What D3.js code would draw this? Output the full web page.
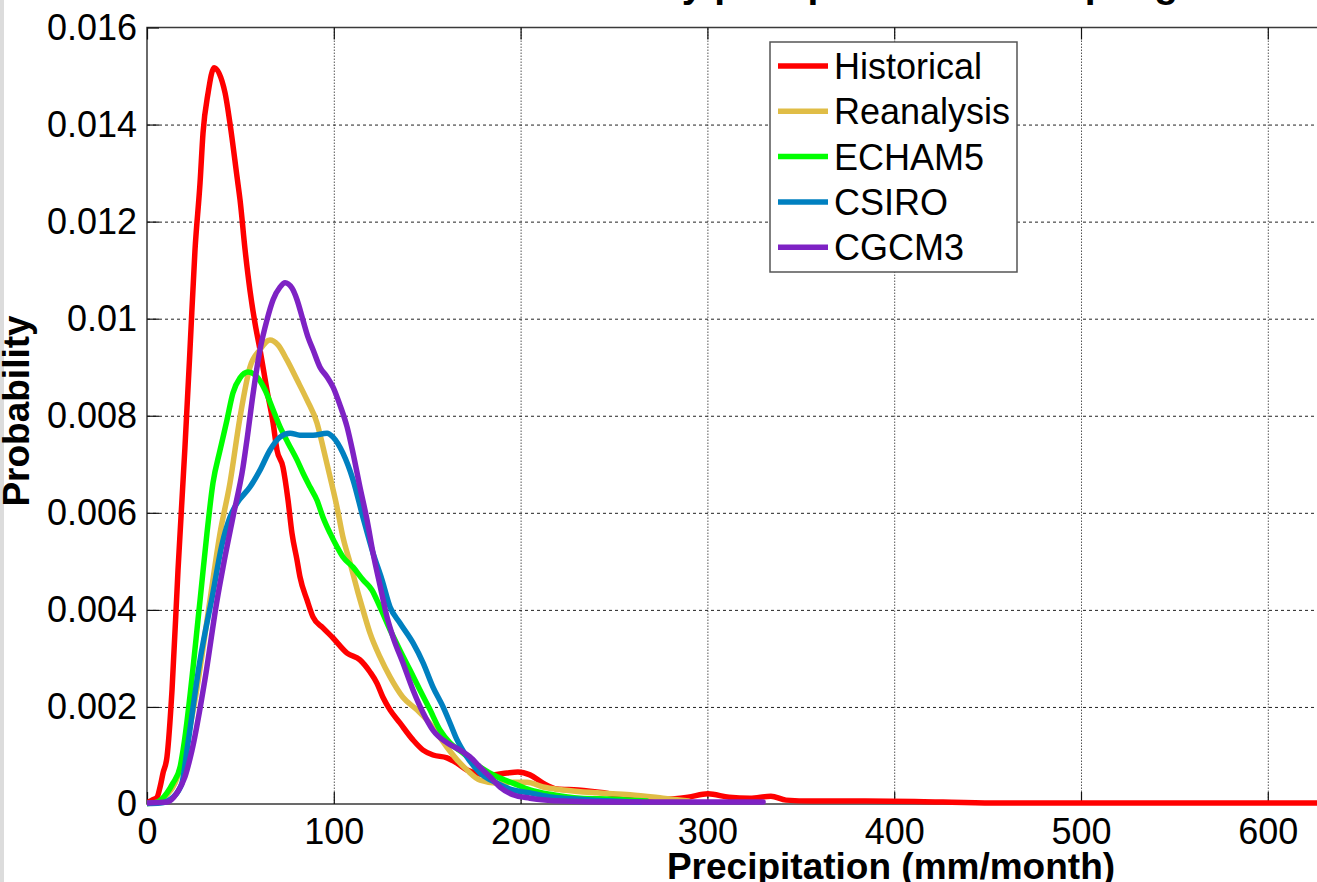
<!DOCTYPE html>
<html>
<head>
<meta charset="utf-8">
<script src="https://cdn.jsdelivr.net/npm/d3@7"></script>
<style>
  body { margin: 0; background: #fff; }
  svg { display: block; }
  text { font-family: "Liberation Sans", Arial, sans-serif; fill: #000; }
</style>
</head>
<body>
<svg id="chart" width="1317" height="882"></svg>
<script>
// ---- data -------------------------------------------------------------
const seriesNames  = ["Historical", "Reanalysis", "ECHAM5", "CSIRO", "CGCM3"];
const seriesColors = ["#ff0000", "#e0bd46", "#00ff00", "#0080c0", "#7e22c4"];

const xTicks = [0, 100, 200, 300, 400, 500, 600];
const xTickLabels = ["0", "100", "200", "300", "400", "500", "600"];
const yTicks = [0, 0.002, 0.004, 0.006, 0.008, 0.01, 0.012, 0.014, 0.016];
const yTickLabels = ["0", "0.002", "0.004", "0.006", "0.008", "0.01", "0.012", "0.014", "0.016"];

const historicalX = [0, 2.7, 5.4, 7.0, 8.6, 10.7, 13.4, 16.6, 20.3, 23.0, 25.7, 28.4, 30.0, 32.7, 35.9,
  41.8, 44.4, 48.2, 49.8, 52.5, 55.1, 57.8, 60.5, 64.2, 67.5, 69.6, 72.8, 75.5, 77.6, 80.3, 81.9, 85.7,
  88.9, 94.2, 99.6, 107.1, 114.0, 119.4, 123.1, 126.3, 130.1, 135.4, 142.4, 147.8, 153.1, 160.6, 166.0,
  171.3, 178.3, 185.2, 192.7, 198.6, 205.0, 212.0, 219.5, 230.7, 244.6, 261.2, 278.4, 289.6, 300.3,
  311.6, 322.8, 334.0, 342.1, 356.0, 384.4, 426.1, 456.6, 600, 800];
const historicalY = [0.00002, 0.00008, 0.00014, 0.00035, 0.00064, 0.00097, 0.00235, 0.00482, 0.00734,
  0.00935, 0.01142, 0.01280, 0.01383, 0.01465, 0.01517, 0.01465, 0.01403, 0.01292, 0.01245, 0.01142,
  0.01059, 0.00991, 0.00936, 0.00853, 0.00785, 0.00729, 0.00694, 0.00626, 0.00558, 0.00503, 0.00468,
  0.00420, 0.00385, 0.00363, 0.00342, 0.00311, 0.00297, 0.00272, 0.00249, 0.00220, 0.00194, 0.00167,
  0.00132, 0.00111, 0.00101, 0.00095, 0.00084, 0.00070, 0.00062, 0.00060, 0.00064, 0.00066, 0.00060,
  0.00043, 0.00031, 0.00029, 0.00023, 0.00012, 0.00010, 0.00014, 0.00021, 0.00014, 0.00012, 0.00016,
  0.00008, 0.00006, 0.00006, 0.00004, 0.00002, 0.00002, 0.00002];

const reanalysisX = [0, 5.4, 10.7, 15.0, 20.3, 25.7, 33.7, 39.1, 44.4, 49.8, 55.1, 60.5, 65.8, 70.1,
  74.9, 80.3, 85.7, 91.0, 94.2, 98.0, 101.7, 104.9, 108.7, 113.0, 115.6, 119.4, 124.7, 130.1, 137.0,
  144.5, 149.9, 155.2, 160.6, 166.0, 171.3, 178.3, 187.4, 195.9, 203.4, 212.0, 222.7, 240.9, 258.6,
  276.2, 290];
const reanalysisY = [0.00001, 0.00003, 0.00019, 0.00043, 0.00111, 0.00214, 0.00420, 0.00558, 0.00661,
  0.00797, 0.00900, 0.00936, 0.00956, 0.00946, 0.00915, 0.00874, 0.00832, 0.00785, 0.00736, 0.00674,
  0.00612, 0.00550, 0.00497, 0.00435, 0.00400, 0.00352, 0.00303, 0.00262, 0.00220, 0.00194, 0.00173,
  0.00146, 0.00117, 0.00091, 0.00070, 0.00049, 0.00043, 0.00045, 0.00045, 0.00035, 0.00029, 0.00023,
  0.00019, 0.00012, 0.00006];

const echamX = [0, 5.4, 10.7, 13.9, 17.7, 19.3, 28.4, 32.1, 35.3, 39.1, 42.8, 46.0, 49.8, 54.1, 58.9,
  63.2, 66.9, 71.2, 75.5, 80.3, 83.5, 87.3, 91.0, 94.2, 98.0, 101.7, 104.9, 110.3, 115.6, 120.4, 124.7,
  130.1, 135.4, 140.8, 146.1, 151.5, 156.9, 162.2, 169.2, 178.3, 187.4, 195.9, 205.0, 217.3, 231.8,
  249.5, 267.7];
const echamY = [0.00001, 0.00004, 0.00023, 0.00043, 0.00076, 0.00111, 0.00420, 0.00558, 0.00661,
  0.00729, 0.00791, 0.00847, 0.00878, 0.00890, 0.00880, 0.00853, 0.00818, 0.00777, 0.00744, 0.00709,
  0.00682, 0.00653, 0.00626, 0.00591, 0.00558, 0.00530, 0.00509, 0.00488, 0.00462, 0.00441, 0.00406,
  0.00359, 0.00317, 0.00276, 0.00235, 0.00194, 0.00152, 0.00126, 0.00105, 0.00076, 0.00056, 0.00043,
  0.00029, 0.00019, 0.00012, 0.00010, 0.00006];

const csiroX = [0, 7.0, 13.9, 18.7, 21.4, 28.4, 35.3, 40.1, 44.4, 48.2, 55.1, 60.5, 65.8, 71.2, 76.6,
  81.9, 88.9, 96.4, 99.6, 104.9, 110.3, 115.6, 121.0, 125.8, 130.1, 135.4, 142.4, 147.8, 153.1, 158.5,
  162.2, 166.0, 171.3, 178.3, 187.4, 195.9, 205.0, 217.3, 231.8, 249.5, 263.9];
const csiroY = [0.00001, 0.00002, 0.00014, 0.00043, 0.00111, 0.00297, 0.00435, 0.00534, 0.00591,
  0.00620, 0.00653, 0.00688, 0.00729, 0.00756, 0.00764, 0.00760, 0.00760, 0.00764, 0.00756, 0.00723,
  0.00668, 0.00591, 0.00517, 0.00462, 0.00406, 0.00373, 0.00332, 0.00291, 0.00241, 0.00200, 0.00167,
  0.00132, 0.00097, 0.00064, 0.00043, 0.00029, 0.00023, 0.00014, 0.00010, 0.00006, 0.00004];

const cgcmX = [0, 10.7, 16.1, 20.3, 24.1, 31.0, 37.5, 40.7, 46.0, 51.4, 53.5, 56.7, 60.5, 64.2, 67.5,
  71.2, 73.9, 77.6, 80.3, 83.5, 86.2, 88.9, 92.6, 96.4, 99.6, 103.3, 107.1, 110.3, 114.0, 117.8, 121.0,
  124.7, 128.5, 131.7, 137.0, 142.4, 147.8, 153.1, 160.6, 167.6, 172.9, 178.3, 183.6, 189.0, 195.9,
  205.0, 222.7, 249.5, 329.8];
const cgcmY = [0.00002, 0.00004, 0.00023, 0.00056, 0.00111, 0.00256, 0.00420, 0.00488, 0.00591,
  0.00694, 0.00750, 0.00843, 0.00936, 0.00997, 0.01039, 0.01065, 0.01074, 0.01063, 0.01039, 0.00997,
  0.00962, 0.00936, 0.00900, 0.00880, 0.00859, 0.00822, 0.00777, 0.00723, 0.00653, 0.00585, 0.00517,
  0.00451, 0.00385, 0.00344, 0.00291, 0.00235, 0.00188, 0.00152, 0.00126, 0.00111, 0.00097, 0.00076,
  0.00056, 0.00035, 0.00019, 0.00012, 0.00006, 0.00004, 0.00004];

const seriesX = [historicalX, reanalysisX, echamX, csiroX, cgcmX];
const seriesY = [historicalY, reanalysisY, echamY, csiroY, cgcmY];

// ---- layout -----------------------------------------------------------
const svg = d3.select("#chart");
const plotLeft = 147, plotTop = 27.5, plotBottom = 804;
const pxPer100 = 186.8;                      // pixels per 100 mm/month
const plotRight = plotLeft + 8 * pxPer100;   // axis runs to 800, past the window edge

const x = d3.scaleLinear().domain([0, 800]).range([plotLeft, plotRight]);
const y = d3.scaleLinear().domain([0, 0.016]).range([plotBottom, plotTop]);

svg.append("rect").attr("width", 1317).attr("height", 882).attr("fill", "#fff");
// thin grey strip at the left edge of the figure window
svg.append("rect").attr("x", 0).attr("y", 0).attr("width", 4).attr("height", 882).attr("fill", "#dcdcdc");

// title (mostly above the visible area)
svg.append("text")
  .attr("x", 866).attr("y", -3)
  .attr("text-anchor", "middle")
  .style("font-size", "39px").style("font-weight", "bold")
  .text("Monthly precipitation in Lampang");

// grid
const gridX = svg.append("g").attr("transform", `translate(0,${plotBottom})`)
  .call(d3.axisBottom(x).tickValues(xTicks.slice(1)).tickSize(-(plotBottom - plotTop)).tickFormat(""));
gridX.select(".domain").remove();
gridX.selectAll("line").attr("stroke", "#555").attr("stroke-width", 1).attr("stroke-dasharray", "1.5,1.5");

const gridY = svg.append("g").attr("transform", `translate(${plotLeft},0)`)
  .call(d3.axisLeft(y).tickValues(yTicks.slice(1, -1)).tickSize(-(plotRight - plotLeft)).tickFormat(""));
gridY.select(".domain").remove();
gridY.selectAll("line").attr("stroke", "#222").attr("stroke-width", 1).attr("stroke-dasharray", "3,3");

// box
svg.append("rect")
  .attr("x", plotLeft).attr("y", plotTop).attr("width", plotRight - plotLeft).attr("height", plotBottom - plotTop)
  .attr("fill", "none").attr("stroke", "#3a3a3a").attr("stroke-width", 1.5);

// axes with inward ticks
const axisL = svg.append("g").attr("transform", `translate(${plotLeft},0)`)
  .call(d3.axisLeft(y).tickValues(yTicks).tickSize(-12).tickPadding(10)
    .tickFormat((d, i) => yTickLabels[i]));
const axisB = svg.append("g").attr("transform", `translate(0,${plotBottom})`)
  .call(d3.axisBottom(x).tickValues(xTicks).tickSize(-12).tickPadding(14)
    .tickFormat((d, i) => xTickLabels[i]));
const axisT = svg.append("g").attr("transform", `translate(0,${plotTop})`)
  .call(d3.axisTop(x).tickValues(xTicks).tickSize(-12).tickFormat(""));
[axisL, axisB, axisT].forEach(g => {
  g.select(".domain").remove();
  g.selectAll("line").attr("stroke", "#111").attr("stroke-width", 1.2);
  g.selectAll("text").style("font-size", "36px").style("font-family", "'Liberation Sans', Arial, sans-serif").attr("fill", "#000");
});

// axis labels
svg.append("text")
  .attr("x", 891).attr("y", 879).attr("text-anchor", "middle")
  .style("font-size", "37px").style("font-weight", "bold")
  .text("Precipitation (mm/month)");
svg.append("text")
  .attr("transform", "translate(29,411) rotate(-90)")
  .attr("text-anchor", "middle")
  .style("font-size", "37px").style("font-weight", "bold")
  .text("Probability");

// curves
svg.append("clipPath").attr("id", "plotClip")
  .append("rect").attr("x", plotLeft).attr("y", plotTop).attr("width", plotRight - plotLeft).attr("height", plotBottom - plotTop + 4);

const line = d3.line()
  .x(d => x(d[0]))
  .y(d => y(d[1]))
  .curve(d3.curveMonotoneX);

const curves = svg.append("g").attr("clip-path", "url(#plotClip)");
seriesNames.forEach((name, i) => {
  const pts = seriesX[i].map((v, j) => [v, seriesY[i][j]]);
  curves.append("path")
    .datum(pts)
    .attr("d", line)
    .attr("fill", "none")
    .attr("stroke", seriesColors[i])
    .attr("stroke-width", 5.5)
    .attr("stroke-linejoin", "round")
    .attr("stroke-linecap", "round");
});

// legend
const legend = svg.append("g");
legend.append("rect")
  .attr("x", 770).attr("y", 42).attr("width", 247).attr("height", 230)
  .attr("fill", "#fff").attr("stroke", "#555").attr("stroke-width", 1.5);
seriesNames.forEach((name, i) => {
  const ly = 66 + i * 45.3;
  legend.append("line")
    .attr("x1", 778).attr("x2", 828).attr("y1", ly).attr("y2", ly)
    .attr("stroke", seriesColors[i]).attr("stroke-width", 5.5);
  legend.append("text")
    .attr("x", 834).attr("y", ly + 13)
    .style("font-size", "36px")
    .text(name);
});
</script>
</body>
</html>
